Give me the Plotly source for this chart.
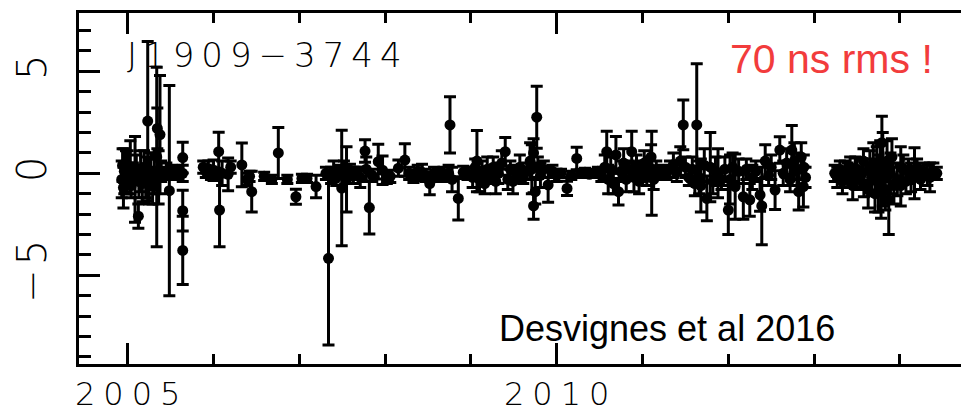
import plotly.graph_objects as go

# Timing residuals of J1909-3744 (microseconds) vs year
years = [
    2004.93, 2004.94, 2004.95, 2004.96, 2004.97, 2004.98, 2004.99, 2005.00, 2005.02, 2005.03,
    2005.04, 2005.06, 2005.085, 2005.10, 2005.124, 2005.13, 2005.15, 2005.17, 2005.19, 2005.21,
    2005.233, 2005.25, 2005.27, 2005.29, 2005.31, 2005.338, 2005.345, 2005.376, 2005.36, 2005.39,
    2005.42, 2005.45, 2005.485, 2005.51, 2005.55, 2005.59, 2005.641, 2005.641, 2005.641, 2005.641,
    2005.88, 2005.91, 2005.94, 2005.97, 2006.00, 2006.03, 2006.06, 2006.07, 2006.10, 2006.17,
    2006.20, 2006.33, 2006.39, 2006.42, 2006.445, 2006.59, 2006.68, 2006.755, 2006.86, 2006.96,
    2007.03, 2007.09, 2007.195, 2007.34, 2007.31, 2007.37, 2007.40, 2007.43, 2007.46, 2007.494,
    2007.52, 2007.55, 2007.59, 2007.63, 2007.67, 2007.71, 2007.766, 2007.816, 2007.78, 2007.85,
    2007.92, 2007.97, 2008.02, 2008.06, 2008.155, 2008.23, 2008.28, 2008.33, 2008.38, 2008.43,
    2008.47, 2008.52, 2008.57, 2008.62, 2008.68, 2008.74, 2008.756, 2008.78, 2008.853, 2008.91,
    2008.96, 2009.02, 2009.05, 2009.07, 2009.10, 2009.13, 2009.16, 2009.19, 2009.22, 2009.26,
    2009.29, 2009.32, 2009.36, 2009.40, 2009.43, 2009.46, 2009.49, 2009.53, 2009.57, 2009.61,
    2009.65, 2009.69, 2009.71, 2009.73, 2009.73, 2009.75, 2009.767, 2009.78, 2009.81, 2009.85,
    2009.90, 2009.95, 2010.00, 2010.05, 2010.12, 2010.17, 2010.233, 2010.28, 2010.33, 2010.38,
    2010.43, 2010.48, 2010.52, 2010.56, 2010.583, 2010.60, 2010.63, 2010.66, 2010.69, 2010.72,
    2010.75, 2010.78, 2010.81, 2010.84, 2010.874, 2010.90, 2010.93, 2010.96, 2010.99, 2011.02,
    2011.05, 2011.08, 2011.10, 2011.107, 2011.13, 2011.16, 2011.20, 2011.24, 2011.28, 2011.32,
    2011.36, 2011.40, 2011.44, 2011.475, 2011.50, 2011.54, 2011.58, 2011.61, 2011.632, 2011.66,
    2011.68, 2011.72, 2011.75, 2011.79, 2011.82, 2011.85, 2011.88, 2011.92, 2011.96, 2012.00,
    2012.02, 2012.05, 2012.08, 2012.12, 2012.175, 2012.21, 2012.25, 2012.28, 2012.32, 2012.37,
    2012.39, 2012.43, 2012.47, 2012.50, 2012.545, 2012.60, 2012.64, 2012.68, 2012.72, 2012.74,
    2012.77, 2012.80, 2012.82, 2012.85, 2012.875, 2012.88, 2012.90,
    2013.24, 2013.27, 2013.30, 2013.33, 2013.36, 2013.39, 2013.42, 2013.45, 2013.48, 2013.50,
    2013.53, 2013.56, 2013.58, 2013.575, 2013.63, 2013.65, 2013.67, 2013.69, 2013.71, 2013.73,
    2013.75, 2013.77, 2013.79, 2013.80, 2013.78, 2013.83, 2013.85, 2013.87, 2013.89, 2013.907,
    2013.93, 2014.01, 2013.97, 2014.01, 2014.04, 2014.07, 2014.10, 2014.13, 2014.17, 2014.20,
    2014.24, 2014.28, 2014.32, 2014.35, 2014.39, 2014.43,
]

residuals = [
    -0.3, 0.4, -0.7, 0.1, -0.2, 0.5, -0.5, 0.2, -0.1, 0.3,
    -0.6, 0.0, -0.3, 0.2, -2.1, -0.4, 0.1, -0.5, 0.3, -0.2,
    2.56, -0.4, 0.1, -0.6, 0.0, 0.8, 2.2, 1.9, -0.2, 0.1,
    0.0, 0.1, -0.85, 0.1, 0.0, 0.05, 0.77, 0.0, -1.83, -3.78,
    0.3, 0.1, 0.2, 0.0, 0.15, -0.05, 1.06, -1.8, 0.0, -0.05,
    0.3, 0.41, -0.3, -0.15, -0.9, -0.15, -0.3, 1.0, -0.3, -1.15,
    -0.25, -0.25, -0.65, -4.17, 0.0, -0.1, 0.1, -0.2, 0.1, -0.72,
    0.2, -0.3, 0.15, -0.1, 0.0, -0.2, 1.09, -1.68, 0.2, -0.1,
    0.57, 0.15, -0.2, -0.15, 0.25, 0.65, 0.0, -0.15, 0.1, 0.05,
    -0.1, -0.5, 0.0, -0.1, 0.0, 0.0, 2.37, -0.3, -1.23, 0.05,
    0.0, -0.2, 0.3, 0.6, -0.3, 0.1, -0.5, 0.2, -0.1, 0.3,
    -0.4, 0.0, 0.5, 1.06, -0.3, 0.2, -0.4, 0.0, 0.3, -0.2,
    0.1, 0.6, 0.2, 1.0, -1.6, -0.9, 2.75, 0.3, -0.1, 0.2,
    -0.57, 0.1, -0.1, 0.0, -0.74, -0.1, 0.73, 0.0, 0.05, -0.05,
    0.0, 0.1, -0.1, 0.3, 1.06, -0.3, 0.2, -0.5, 0.9, -0.9,
    0.1, 0.5, -0.3, 0.2, 1.06, -0.2, 0.4, -0.4, 0.1, 0.5,
    -0.2, 0.3, 0.8, 0.0, -0.3, 0.2, 0.0, 0.1, 0.0, 0.2,
    0.4, 0.1, 0.6, 2.37, 0.3, -0.2, 0.2, -0.5, 2.37, -0.2,
    -0.6, 0.4, -1.23, 0.3, -0.4, 0.1, 0.0, -0.3, 0.2, -1.8,
    -0.3, 0.3, -0.65, 0.1, -1.15, 0.2, -1.3, -0.2, 0.1, -1.06,
    -1.6, 0.6, -0.1, 0.3, -0.82, 1.14, 0.0, 0.5, -0.3, 1.14,
    0.6, 0.2, -0.9, 0.8, -0.65, 0.3, -0.2,
    0.0, -0.2, 0.2, -0.4, 0.1, -0.1, 0.3, -0.6, 0.2, 0.2,
    -0.3, 0.0, -0.5, 0.6, -0.8, 0.3, -0.2, 0.5, -1.0, 0.1,
    -0.5, 0.4, 1.5, 0.2, -0.4, -0.8, 0.6, -1.3, 0.0, 0.8,
    -0.6, 0.3, -0.3, -0.6, 0.2, -0.4, 0.1, -0.2, 0.0, 0.3,
    -0.3, 0.1, -0.1, -0.2, 0.1, 0.0,
]

errors = [
    0.9, 0.8, 1.0, 1.1, 0.7, 0.6, 0.5, 0.9, 0.6, 1.3,
    0.6, 0.5, 2.1, 0.7, 0.6, 0.8, 1.0, 0.9, 0.8, 1.0,
    3.9, 1.1, 0.9, 0.9, 1.0, 4.4, 1.0, 2.9, 1.3, 0.5,
    0.3, 0.4, 5.15, 0.3, 0.3, 0.3, 0.75, 0.4, 1.0, 1.67,
    0.3, 0.3, 0.4, 0.3, 0.5, 0.3, 0.95, 1.8, 0.6, 0.8,
    0.3, 1.07, 0.3, 0.25, 1.0, 0.2, 0.2, 1.25, 0.2, 0.37,
    0.2, 0.2, 0.55, 4.25, 0.3, 0.4, 0.5, 0.4, 0.3, 2.83,
    0.4, 1.6, 0.3, 0.4, 0.3, 0.5, 0.55, 1.3, 0.6, 0.3,
    0.85, 0.7, 0.3, 0.3, 0.4, 0.8, 0.3, 0.3, 0.3, 0.4,
    0.3, 0.55, 0.3, 0.3, 0.3, 0.4, 1.38, 0.6, 1.06, 0.3,
    0.3, 0.5, 0.4, 1.5, 0.6, 0.5, 0.5, 0.6, 0.4, 0.5,
    0.6, 0.5, 0.6, 0.7, 0.5, 0.4, 0.6, 0.4, 0.6, 0.3,
    0.4, 0.9, 1.2, 0.7, 0.65, 0.6, 1.52, 0.5, 0.6, 0.4,
    0.85, 0.3, 0.3, 0.2, 0.35, 0.2, 0.55, 0.2, 0.2, 0.15,
    0.2, 0.2, 0.3, 0.6, 1.0, 0.7, 0.6, 0.5, 0.9, 0.65,
    0.5, 0.7, 0.6, 0.4, 1.0, 0.7, 0.5, 0.6, 0.5, 0.6,
    0.4, 0.5, 0.6, 2.06, 0.5, 0.4, 0.3, 0.3, 0.3, 0.4,
    0.6, 0.5, 0.7, 1.22, 0.5, 0.4, 0.6, 0.6, 3.0, 0.8,
    1.3, 0.8, 1.1, 1.7, 0.6, 0.7, 1.2, 0.5, 0.6, 1.2,
    1.2, 0.7, 1.6, 0.6, 1.1, 0.5, 0.8, 0.6, 0.5, 0.8,
    1.9, 0.8, 0.5, 0.6, 0.95, 0.65, 0.6, 0.7, 0.6, 1.2,
    0.9, 0.8, 0.9, 0.7, 1.0, 0.6, 0.5,
    0.4, 0.5, 0.4, 0.6, 0.5, 0.6, 0.5, 0.7, 0.6, 0.55,
    0.5, 0.7, 0.65, 0.6, 0.9, 0.8, 0.9, 1.0, 0.9, 1.2,
    1.4, 1.2, 1.3, 1.8, 1.8, 1.0, 1.0, 1.7, 1.0, 0.9,
    0.9, 1.0, 0.8, 1.0, 0.7, 0.6, 0.6, 0.7, 1.25, 0.4,
    0.5, 0.4, 0.5, 0.7, 0.4, 0.3,
]

x_tick_vals = [2005, 2010]
x_tick_labels = ["2005", "2010"]
y_tick_vals = [-5, 0, 5]
y_tick_labels = ["−5", "0", "5"]

pulsar_label = "J1909−3744"
rms_label = "70 ns rms !"
ref_label = "Desvignes et al 2016"


def spaced(s, px):
    return '<span style="letter-spacing:%dpx">%s</span>' % (px, s)


fig = go.Figure()
fig.add_trace(go.Scatter(
    x=years, y=residuals, mode="markers",
    marker=dict(symbol="circle", size=11, color="black", line=dict(width=0)),
    error_y=dict(type="data", array=errors, visible=True, color="black",
                 thickness=3, width=6),
    showlegend=False,
))

W, H = 961, 412
ml, mr, mt, mb = 79, 0, 13, 48
PW, PH = W - ml - mr, H - mt - mb
YR = [-9.35, 7.86]

axis_font_x = dict(family="DejaVu Sans", size=32, color="black", weight=200)
axis_font_y = dict(family="DejaVu Sans", size=40, color="black", weight=200)

fig.update_layout(
    width=W, height=H,
    margin=dict(l=ml, r=mr, t=mt, b=mb, pad=0, autoexpand=False),
    paper_bgcolor="white", plot_bgcolor="white",
    showlegend=False,
    xaxis=dict(
        range=[2004.432, 2014.712], automargin=False,
        tickmode="array", tickvals=x_tick_vals,
        ticktext=[spaced(t, 8) for t in x_tick_labels],
        ticklabelshift=4,
        ticks="inside", ticklen=21, tickwidth=2.5, tickcolor="black",
        showline=True, linewidth=2.5, linecolor="black", mirror="allticks",
        showgrid=False, zeroline=False,
        tickfont=axis_font_x,
        ticklabelstandoff=0,
        minor=dict(dtick=1, tick0=2005, ticks="inside", ticklen=10,
                   tickwidth=2.5, tickcolor="black", showgrid=False),
    ),
    yaxis=dict(
        range=YR, automargin=False,
        tickmode="array", tickvals=y_tick_vals,
        ticktext=[spaced(t, 4) for t in y_tick_labels],
        tickangle=-90,
        ticks="inside", ticklen=21, tickwidth=2.5, tickcolor="black",
        showline=True, linewidth=2.5, linecolor="black", mirror=False,
        showgrid=False, zeroline=False,
        tickfont=axis_font_y,
        ticklabelstandoff=14,
        minor=dict(dtick=1, tick0=0, ticks="inside", ticklen=12,
                   tickwidth=2.5, tickcolor="black", showgrid=False),
    ),
    # right-hand ticks: the frame itself lies just outside the picture
    yaxis2=dict(
        range=YR, overlaying="y", side="right", anchor="x", automargin=False,
        tickmode="array", tickvals=y_tick_vals, showticklabels=False,
        ticks="inside", ticklen=14, tickwidth=2.5, tickcolor="black",
        showline=False, showgrid=False, zeroline=False,
        minor=dict(dtick=1, tick0=0, ticks="inside", ticklen=5,
                   tickwidth=2.5, tickcolor="black", showgrid=False),
    ),
)


def px_to_paper_x(px):
    return (px - ml) / PW


def px_to_paper_y(py):
    return 1 - (py - mt) / PH


fig.add_annotation(text=spaced(pulsar_label, 7), xref="paper", yref="paper",
                   x=px_to_paper_x(125), y=px_to_paper_y(55), xanchor="left", yanchor="middle",
                   showarrow=False,
                   font=dict(family="DejaVu Sans", size=34, color="black", weight=200))
fig.add_annotation(text=rms_label, xref="paper", yref="paper",
                   x=px_to_paper_x(728), y=px_to_paper_y(59), xanchor="left", yanchor="middle",
                   showarrow=False,
                   font=dict(family="Liberation Sans", size=41, color="#f23c3c"))
fig.add_annotation(text=ref_label, xref="paper", yref="paper",
                   x=px_to_paper_x(497), y=px_to_paper_y(328), xanchor="left", yanchor="middle",
                   showarrow=False,
                   font=dict(family="Liberation Sans", size=36, color="black"))

fig.write_html("out.html", config={"displayModeBar": False},
               post_script="document.documentElement.style.margin='0';"
                           "document.body.style.margin='0';"
                           "document.documentElement.style.overflow='hidden';"
                           "document.body.style.overflow='hidden';")
